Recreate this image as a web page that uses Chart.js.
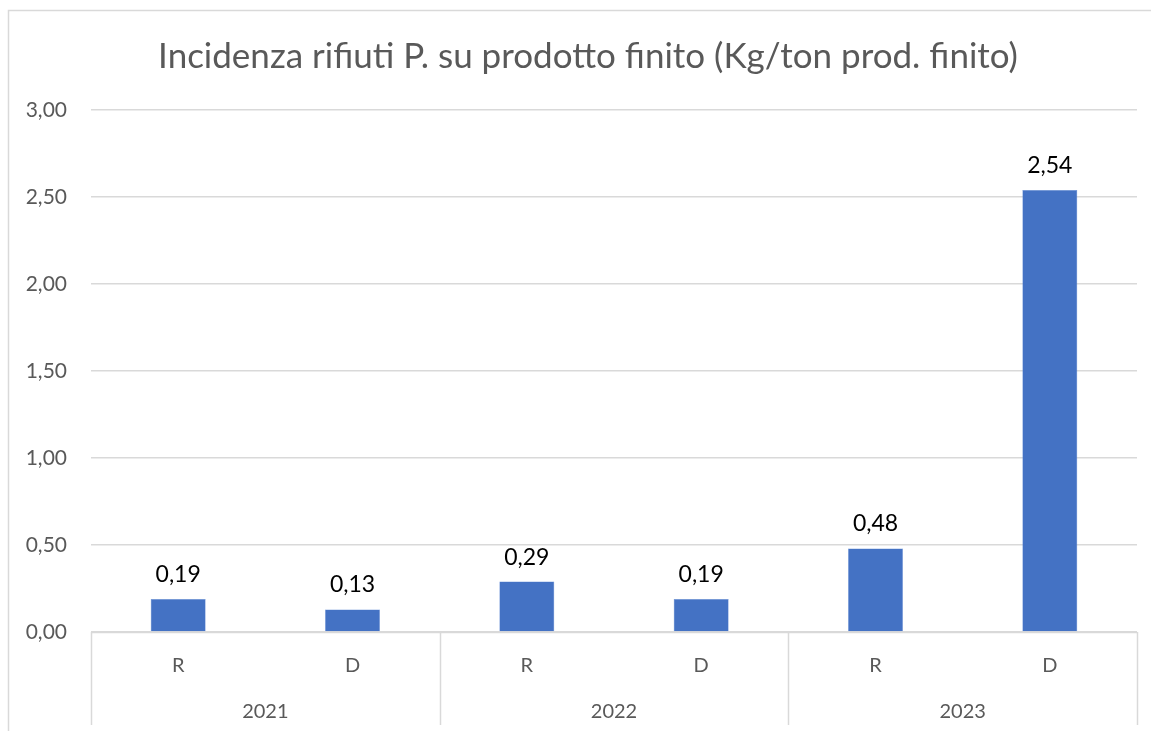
<!DOCTYPE html>
<html>
<head>
<meta charset="utf-8">
<script src="https://cdn.jsdelivr.net/npm/chart.js@4"></script>
<style>
html,body{margin:0;padding:0;background:#fff;}
canvas{display:block;}
</style>
</head>
<body>
<canvas id="c" width="1151" height="731"></canvas>
<script>
const titleText = 'Incidenza rifiuti P. su prodotto finito (Kg/ton prod. finito)';
const categories = ['R', 'D', 'R', 'D', 'R', 'D'];
const years = ['2021', '2022', '2023'];
const values = [0.19, 0.13, 0.29, 0.19, 0.48, 2.54];
const yTicks = [0, 0.5, 1, 1.5, 2, 2.5, 3];

const FONT = 'Lato, "Open Sans", sans-serif';
const fmt = v => v.toFixed(2).replace('.', ',');

const decor = {
  id: 'decor',
  beforeDraw(chart) {
    const ctx = chart.ctx;
    ctx.save();
    ctx.fillStyle = '#fff';
    ctx.fillRect(0, 0, chart.width, chart.height);
    ctx.strokeStyle = '#d9d9d9';
    ctx.lineWidth = 1.5;
    ctx.beginPath();
    ctx.moveTo(8.5, chart.height + 5);
    ctx.lineTo(8.5, 10.5);
    ctx.lineTo(chart.width + 5, 10.5);
    ctx.stroke();
    // title (centred on the full chart frame, which extends past the right edge)
    ctx.fillStyle = '#595959';
    ctx.font = '35px ' + FONT;
    ctx.textAlign = 'center';
    ctx.textBaseline = 'middle';
    ctx.fillText(titleText, 588, 57);
    ctx.restore();
  },
  afterDraw(chart) {
    const ctx = chart.ctx;
    const x = chart.scales.x;
    const area = chart.chartArea;
    ctx.save();
    ctx.strokeStyle = '#d9d9d9';
    ctx.lineWidth = 1.5;
    ctx.beginPath();
    ctx.moveTo(area.left, area.bottom + 0.5);
    ctx.lineTo(area.right, area.bottom + 0.5);
    const half = (x.getPixelForValue(1) - x.getPixelForValue(0)) / 2;
    for (let g = 0; g <= years.length; g++) {
      const px = Math.round(x.getPixelForValue(g * 2) - half) + 0.5;
      ctx.moveTo(px, area.bottom);
      ctx.lineTo(px, area.bottom + 93);
    }
    ctx.stroke();
    ctx.fillStyle = '#595959';
    ctx.font = '20px ' + FONT;
    ctx.textAlign = 'center';
    ctx.textBaseline = 'middle';
    categories.forEach((c, i) => {
      ctx.fillText(c, x.getPixelForValue(i), area.bottom + 34);
    });
    years.forEach((yr, g) => {
      const cx = (x.getPixelForValue(g * 2) + x.getPixelForValue(g * 2 + 1)) / 2;
      ctx.fillText(yr, cx, area.bottom + 80);
    });
    ctx.fillStyle = '#000';
    ctx.font = '23px ' + FONT;
    ctx.textBaseline = 'alphabetic';
    const meta = chart.getDatasetMeta(0);
    meta.data.forEach((bar, i) => {
      ctx.fillText(fmt(values[i]), bar.x, bar.y - 17);
    });
    ctx.restore();
  }
};

new Chart(document.getElementById('c'), {
  type: 'bar',
  data: {
    labels: categories,
    datasets: [{
      data: values,
      backgroundColor: '#4472C4',
      borderColor: '#5b86d3',
      borderWidth: 0.5,
      barPercentage: 0.315,
      categoryPercentage: 1
    }]
  },
  options: {
    responsive: false,
    animation: false,
    devicePixelRatio: 1,
    layout: { padding: { left: 0, right: 14, top: 110, bottom: 0 } },
    plugins: {
      legend: { display: false },
      tooltip: { enabled: false },
      title: { display: false }
    },
    scales: {
      x: {
        grid: { display: false },
        border: { display: false },
        ticks: { display: false },
        afterFit: s => { s.height = 99; }
      },
      y: {
        min: 0,
        max: 3,
        afterBuildTicks: s => { s.ticks = yTicks.map(v => ({ value: v })); },
        grid: { color: '#d9d9d9', lineWidth: 1.5, drawTicks: false },
        border: { display: false },
        ticks: {
          color: '#595959',
          font: { family: FONT, size: 21 },
          padding: 24,
          callback: v => fmt(v)
        },
        afterFit: s => { s.width = 91; }
      }
    }
  },
  plugins: [decor]
});
</script>
</body>
</html>
